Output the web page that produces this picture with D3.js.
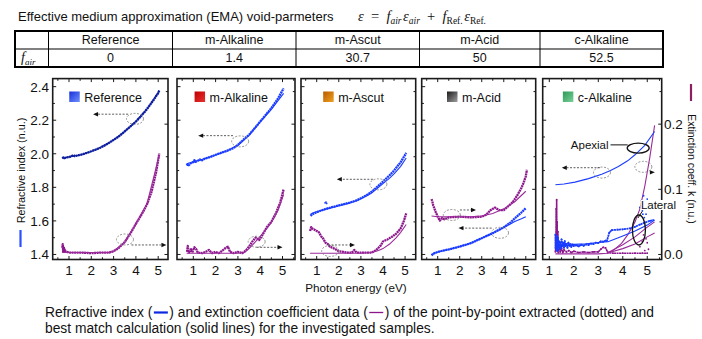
<!DOCTYPE html>
<html><head><meta charset="utf-8">
<script src="https://cdn.jsdelivr.net/npm/d3@7"></script>
<style>
body{margin:0;background:#fff;}
svg{display:block;font-family:"Liberation Sans",Arial,sans-serif;}
</style>
</head><body>
<svg id="c" width="702" height="339"></svg>
<script>
// ---------------- DATA ----------------
const panelNames = ["Reference","m-Alkaline","m-Ascut","m-Acid","c-Alkaline"];
const fAirValues = ["0","1.4","30.7","50","52.5"];
const xTickValues = [1,2,3,4,5];
const nTickLabels = [1.4,1.6,1.8,2.0,2.2,2.4];
const kTickLabels = [0.0,0.1,0.2];

// Reference
const refNData = [[0.7,1.972],[0.75,1.978],[0.8,1.974],[0.9,1.979],[1.0,1.980],[1.1,1.985],[1.2,1.993],[1.25,1.986],[1.4,1.99],[1.6,1.997],[1.8,2.005],[2.0,2.015],[2.2,2.025],[2.4,2.036],[2.6,2.05],[2.8,2.065],[3.0,2.083],[3.2,2.1],[3.4,2.122],[3.6,2.145],[3.8,2.168],[4.0,2.192],[4.2,2.22],[4.4,2.25],[4.6,2.285],[4.8,2.322],[5.0,2.362],[5.05,2.378]];
const refNFit = [[0.7,1.974],[1.0,1.981],[1.5,1.993],[2.0,2.014],[2.5,2.043],[3.0,2.082],[3.5,2.133],[4.0,2.193],[4.5,2.267],[5.05,2.375]];
const refKData = [[0.7,0.010],[0.72,0.016],[0.74,0.004],[0.76,0.012],[0.78,0.005],[0.8,0.008],[0.85,0.004],[0.9,0.004],[1.0,0.003],[1.5,0.003],[2.0,0.002],[2.5,0.003],[2.8,0.003],[3.0,0.005],[3.2,0.009],[3.5,0.019],[3.8,0.035],[4.0,0.047],[4.3,0.064],[4.5,0.077],[4.7,0.096],[4.9,0.125],[5.05,0.155]];
const refKFit = [[0.7,0.003],[1.0,0.003],[2.0,0.003],[2.8,0.003],[3.0,0.005],[3.5,0.019],[4.0,0.047],[4.5,0.078],[5.05,0.153]];

// m-Alkaline
const alkNData = [[0.7,1.93],[0.75,1.938],[0.8,1.932],[0.9,1.945],[1.0,1.95],[1.05,1.962],[1.1,1.952],[1.2,1.958],[1.3,1.966],[1.35,1.958],[1.5,1.97],[1.8,1.983],[2.0,1.994],[2.3,2.008],[2.5,2.017],[2.8,2.034],[3.0,2.053],[3.3,2.09],[3.5,2.113],[3.8,2.16],[4.0,2.192],[4.3,2.24],[4.5,2.272],[4.8,2.33],[5.05,2.39]];
const alkNFit = [[0.7,1.94],[1.0,1.952],[1.5,1.97],[2.0,1.993],[2.5,2.017],[3.0,2.05],[3.5,2.11],[4.0,2.19],[4.5,2.265],[5.05,2.36]];
const alkKData = [[0.72,0.004],[0.75,0.013],[0.8,0.003],[0.9,0.008],[0.95,0.003],[1.05,0.011],[1.12,0.009],[1.2,0.003],[1.4,0.002],[1.55,0.004],[1.7,0.007],[1.85,0.002],[2.0,0.004],[2.15,0.002],[2.3,0.006],[2.45,0.01],[2.55,0.012],[2.65,0.004],[2.8,0.002],[3.0,0.004],[3.2,0.002],[3.35,0.006],[3.5,0.012],[3.65,0.02],[3.8,0.026],[3.95,0.022],[4.1,0.03],[4.3,0.042],[4.5,0.05],[4.7,0.063],[4.9,0.08],[5.05,0.1]];
const alkKFit = [[0.7,0.002],[1.0,0.002],[2.0,0.002],[3.0,0.002],[3.3,0.003],[3.5,0.009],[3.8,0.02],[4.0,0.028],[4.3,0.04],[4.5,0.049],[4.8,0.068],[5.05,0.092]];

// m-Ascut
const ascNData = [[0.72,1.63],[0.8,1.64],[1.0,1.652],[1.2,1.662],[1.5,1.675],[1.8,1.685],[2.0,1.692],[2.3,1.702],[2.5,1.709],[2.8,1.722],[3.0,1.735],[3.3,1.757],[3.5,1.775],[3.8,1.81],[4.0,1.834],[4.3,1.872],[4.5,1.9],[4.8,1.95],[5.05,2.005]];
const ascNFit = [[0.72,1.64],[0.8,1.645],[1.0,1.655],[1.2,1.662],[1.5,1.673],[1.8,1.683],[2.0,1.69],[2.3,1.70],[2.5,1.707],[2.8,1.72],[3.0,1.732],[3.3,1.752],[3.5,1.768],[3.8,1.80],[4.0,1.822],[4.3,1.855],[4.5,1.88],[4.8,1.925],[5.05,1.975]];
const ascNStray = [[1.38,1.708],[1.42,1.712],[1.45,1.704]];
const ascKData = [[0.7,0.036],[0.75,0.042],[0.8,0.04],[0.9,0.038],[1.0,0.036],[1.1,0.034],[1.2,0.028],[1.3,0.024],[1.4,0.018],[1.5,0.016],[1.6,0.012],[1.8,0.009],[2.0,0.005],[2.2,0.004],[2.4,0.003],[2.6,0.003],[2.7,0.007],[2.8,0.003],[3.0,0.003],[3.3,0.003],[3.5,0.003],[3.7,0.007],[3.9,0.014],[4.0,0.02],[4.2,0.023],[4.4,0.027],[4.6,0.032],[4.8,0.04],[4.95,0.052],[5.05,0.063]];
const ascKFit = [[0.7,0.002],[1.0,0.002],[2.0,0.002],[3.0,0.002],[3.5,0.003],[3.8,0.006],[4.0,0.009],[4.3,0.016],[4.6,0.026],[4.8,0.034],[5.05,0.046]];

// m-Acid
const acdNData = [[0.72,1.395],[0.8,1.405],[1.0,1.415],[1.3,1.425],[1.5,1.43],[2.0,1.447],[2.5,1.467],[3.0,1.497],[3.5,1.527],[3.8,1.548],[4.0,1.562],[4.3,1.59],[4.5,1.615],[4.8,1.65],[5.0,1.676]];
const acdNFit = [[0.72,1.398],[0.8,1.405],[1.0,1.415],[1.3,1.424],[1.5,1.43],[2.0,1.447],[2.5,1.467],[3.0,1.496],[3.5,1.528],[3.8,1.548],[4.0,1.56],[4.3,1.582],[4.5,1.597],[4.8,1.613],[5.0,1.625]];
const acdKData = [[0.72,0.085],[0.75,0.082],[0.8,0.075],[0.9,0.066],[1.0,0.058],[1.1,0.052],[1.2,0.056],[1.3,0.054],[1.5,0.057],[2.0,0.058],[2.5,0.057],[3.0,0.058],[3.2,0.061],[3.4,0.068],[3.6,0.072],[3.8,0.068],[4.0,0.068],[4.2,0.074],[4.4,0.08],[4.6,0.09],[4.8,0.102],[4.9,0.11],[5.0,0.12],[5.05,0.13]];
const acdKFit = [[0.72,0.059],[1.0,0.058],[1.5,0.058],[2.0,0.058],[2.5,0.058],[3.0,0.059],[3.5,0.063],[4.0,0.07],[4.5,0.081],[5.0,0.097]];

// c-Alkaline
const calApxNFit = [[1.25,1.815],[1.6,1.82],[2.05,1.831],[2.6,1.852],[3.14,1.878],[3.5,1.9],[3.82,1.924],[4.2,1.958],[4.5,1.994],[4.9,2.05],[5.3,2.133]];
const calApxKFit = [[1.25,0.001],[2.0,0.001],[3.0,0.001],[3.35,0.002],[3.6,0.006],[3.95,0.017],[4.2,0.03],[4.5,0.05],[4.7,0.07],[4.9,0.105],[5.1,0.148],[5.3,0.198]];
const calLatNData = [[1.25,1.52],[1.26,1.44],[1.27,1.49],[1.28,1.43],[1.3,1.51],[1.31,1.46],[1.33,1.42],[1.35,1.5],[1.37,1.45],[1.4,1.48],[1.42,1.43],[1.45,1.47],[1.48,1.44],[1.5,1.49],[1.53,1.45],[1.56,1.47],[1.6,1.44],[1.63,1.48],[1.66,1.45],[1.7,1.46],[1.74,1.44],[1.78,1.47],[1.82,1.45],[1.86,1.46],[1.9,1.445],[1.95,1.46],[2.0,1.45],[2.1,1.455],[2.2,1.448],[2.3,1.458],[2.4,1.452],[2.5,1.46],[2.6,1.456],[2.7,1.465],[2.8,1.462],[2.9,1.47],[3.0,1.468],[3.1,1.478],[3.2,1.476],[3.3,1.482],[3.35,1.48],[3.45,1.53],[3.55,1.545],[3.8,1.548],[4.0,1.55],[4.3,1.556],[4.5,1.565],[4.7,1.578],[4.9,1.59],[5.1,1.6],[5.25,1.605]];
const calLatNScatter = [[4.7,1.68],[4.75,1.72],[4.8,1.66],[4.85,1.75],[4.9,1.7],[4.95,1.64],[5.0,1.73],[4.82,1.64],[5.05,1.69],[4.88,1.62]];
const calLatNFit = [[1.25,1.48],[1.6,1.466],[2.0,1.46],[2.5,1.463],[3.0,1.471],[3.4,1.476],[4.0,1.51],[4.5,1.54],[5.0,1.575],[5.3,1.605]];
const calKData = [[1.25,0.004],[1.26,0.03],[1.27,0.008],[1.28,0.07],[1.29,0.012],[1.3,0.084],[1.31,0.02],[1.32,0.05],[1.33,0.006],[1.35,0.035],[1.37,0.003],[1.4,0.015],[1.45,0.004],[1.5,0.01],[1.55,0.003],[1.6,0.007],[1.7,0.004],[1.8,0.006],[1.9,0.003],[2.0,0.005],[2.2,0.003],[2.4,0.004],[2.6,0.003],[2.8,0.004],[3.0,0.004],[3.1,0.008],[3.2,0.011],[3.3,0.01],[3.35,0.006],[3.4,0.003],[3.6,0.002],[4.0,0.002],[4.5,0.002],[4.8,0.002],[5.0,0.002]];
const calKScatter = [[4.7,0.012],[4.9,0.006],[5.0,0.018],[4.85,0.03],[4.95,0.024],[5.05,0.008],[4.8,0.02]];
const calLatKFit1 = [[3.35,0.002],[4.0,0.015],[4.5,0.027],[5.0,0.042],[5.3,0.05]];
const calLatKFit2 = [[3.35,0.002],[4.0,0.009],[4.5,0.016],[5.0,0.027],[5.3,0.033]];

// annotation anchors (data coordinates)
const nEllipse = [[3.96,2.208],[3.10,2.074],[3.79,1.818],[3.83,1.529],[3.15,1.888]];
const nArrow   = [[3.65,2.08,2.236],[2.78,1.22,2.108],[3.54,1.91,1.848],[3.45,1.94,1.557],[3.07,1.51,1.917]];
const kEllipse = [[3.51,0.023],[3.84,0.0196],[1.61,0.0054],[1.64,0.0606],[4.84,0.1345]];
const kArrow   = [[3.80,5.37,0.0146],[3.84,5.0,0.011],[1.51,2.73,0.0146],[2.01,2.74,0.0683],[5.11,5.31,0.126]];

// ---------------- LAYOUT ----------------
const panelLayout = [
  {x0:52.7, x1:168,   dom:[0.269,5.44]},
  {x0:177,  x1:295,   dom:[0.269,5.56]},
  {x0:301,  x1:415.7, dom:[0.29,5.48]},
  {x0:421.7,x1:535.7, dom:[0.273,5.45]},
  {x0:542.7,x1:661.7, dom:[0.73,5.59]}
];
const yTop = 78.6, yBot = 259.5;
const yN = d3.scaleLinear().domain([1.37,2.448]).range([yBot,yTop]);
const yK = d3.scaleLinear().domain([-0.0077,0.2699]).range([yBot,yTop]);

const NAVY="#0c1d9e", BLUE="#1a3cff", PURPLE="#8c168c", PURPLE_FIT="#9b2b9b";
const legendFills = [["#1530d8","#7090ff"],["#c00000","#e83030"],["#b85a00","#f0a020"],["#1a1a1a","#a0a0a0"],["#2c9a55","#7ad09a"]];

const svg = d3.select("#c");
const defs = svg.append("defs");
legendFills.forEach((c,i)=>{
  const g = defs.append("linearGradient").attr("id","lg"+i).attr("x1","0").attr("y1","0").attr("x2","1").attr("y2","1");
  g.append("stop").attr("offset","0").attr("stop-color",c[0]);
  g.append("stop").attr("offset","1").attr("stop-color",c[1]);
});

// ---------------- TITLE ----------------
svg.append("text").attr("x",18).attr("y",21).attr("font-size",13).attr("fill","#111")
  .text("Effective medium approximation (EMA) void-parmeters");
const eq = svg.append("text").attr("x",358).attr("y",21).attr("font-family","'Liberation Serif','Times New Roman',serif").attr("font-size",14.5).attr("fill","#111").attr("xml:space","preserve").style("white-space","pre");
function eqPart(t, italic, sub){
  const s = eq.append("tspan").text(t).attr("font-style", italic?"italic":"normal");
  if(sub){ s.attr("font-size",9.5).attr("dy",3); }
  return s;
}
eqPart("ε",true); eqPart("  =  ",false);
eqPart("f",true); eqPart("air",true,true);
eq.append("tspan").attr("dy",-3).attr("dx",1.5).attr("font-style","italic").text("ε"); eqPart("air",true,true);
eq.append("tspan").attr("dy",-3).text("  +  ");
eqPart("f",true); eqPart("Ref.",false,true);
eq.append("tspan").attr("dy",-3).attr("dx",1.5).attr("font-style","italic").text("ε"); eqPart("Ref.",false,true);

// ---------------- TABLE ----------------
const colX = [15,48.5,172.5,296,419.5,540,663];
const rowY = [31,49,67];
const tbl = svg.append("g");
for(let i=1;i<colX.length-1;i++) tbl.append("line").attr("x1",colX[i]).attr("x2",colX[i]).attr("y1",rowY[0]).attr("y2",rowY[2]).attr("stroke","#000").attr("stroke-width",1);
tbl.append("line").attr("x1",colX[0]).attr("x2",colX[6]).attr("y1",rowY[1]).attr("y2",rowY[1]).attr("stroke","#000").attr("stroke-width",1);
tbl.append("rect").attr("x",colX[0]).attr("y",rowY[0]).attr("width",colX[6]-colX[0]).attr("height",rowY[2]-rowY[0]).attr("fill","none").attr("stroke","#000").attr("stroke-width",2);
panelNames.forEach((n,i)=>{
  tbl.append("text").attr("x",(colX[i+1]+colX[i+2])/2).attr("y",44).attr("text-anchor","middle").attr("font-size",12.5).attr("fill","#111").text(n);
  tbl.append("text").attr("x",(colX[i+1]+colX[i+2])/2).attr("y",62).attr("text-anchor","middle").attr("font-size",12.5).attr("fill","#111").text(fAirValues[i]);
});
const fa = tbl.append("text").attr("x",21).attr("y",62).attr("font-family","'Liberation Serif','Times New Roman',serif").attr("font-style","italic").attr("font-size",14).attr("fill","#111");
fa.append("tspan").text("f");
fa.append("tspan").attr("font-size",9).attr("dy",2.5).text("air");

// ---------------- PANELS ----------------
const lineGen = (x,y)=> d3.line().x(d=>x(d[0])).y(d=>y(d[1]));

function drawDotted(g, data, x, y, color, w){
  g.append("path").attr("d",lineGen(x,y)(data)).attr("fill","none").attr("stroke",color)
   .attr("stroke-width",w||2.3).attr("stroke-dasharray","2,0.5").attr("stroke-linejoin","round");
}
function drawFit(g, data, x, y, color){
  g.append("path").attr("d",lineGen(x,y)(data)).attr("fill","none").attr("stroke",color).attr("stroke-width",1.1);
}
function drawDots(g, data, x, y, color){
  g.selectAll(null).data(data).enter().append("circle").attr("cx",d=>x(d[0])).attr("cy",d=>y(d[1])).attr("r",0.9).attr("fill",color);
}
function drawEllipse(g, cx, cy, rx, ry, solid){
  g.append("ellipse").attr("cx",cx).attr("cy",cy).attr("rx",rx).attr("ry",ry).attr("fill","none")
    .attr("stroke", solid?"#111":"#777").attr("stroke-width", solid?1.3:0.8)
    .attr("stroke-dasharray", solid?null:"2,1.5");
}
function drawArrow(g, xa, xb, yy){
  const dir = xb>xa?1:-1;
  g.append("line").attr("x1",xa).attr("x2",xb-dir*3).attr("y1",yy).attr("y2",yy).attr("stroke","#333").attr("stroke-width",0.8).attr("stroke-dasharray","2,1.5");
  g.append("path").attr("d",`M${xb},${yy} L${xb-dir*5},${yy-2.2} L${xb-dir*5},${yy+2.2} Z`).attr("fill","#111");
}

const panelSeries = [
  {nData:refNData, nFit:refNFit, kData:refKData, kFit:refKFit, nColor:NAVY},
  {nData:alkNData, nFit:alkNFit, kData:alkKData, kFit:alkKFit, nColor:BLUE},
  {nData:ascNData, nFit:ascNFit, kData:ascKData, kFit:ascKFit, nColor:BLUE},
  {nData:acdNData, nFit:acdNFit, kData:acdKData, kFit:acdKFit, nColor:BLUE},
  null
];

panelLayout.forEach((p,i)=>{
  const x = d3.scaleLinear().domain(p.dom).range([p.x0,p.x1]);
  const g = svg.append("g");
  const cid = "clip"+i;
  defs.append("clipPath").attr("id",cid).append("rect").attr("x",p.x0).attr("y",yTop).attr("width",p.x1-p.x0).attr("height",yBot-yTop);
  const dg = g.append("g").attr("clip-path",`url(#${cid})`);

  const s = panelSeries[i];
  if(s){
    drawDotted(dg, s.kData, x, yK, PURPLE);
    drawFit(dg, s.kFit, x, yK, PURPLE_FIT);
    drawDotted(dg, s.nData, x, yN, s.nColor);
    drawFit(dg, s.nFit, x, yN, s.nColor);
    if(i===2) drawDots(dg, ascNStray, x, yN, BLUE);
  } else {
    drawDotted(dg, calKData, x, yK, PURPLE, 1.6);
    drawDots(dg, calKData, x, yK, PURPLE);
    drawDots(dg, calKScatter, x, yK, PURPLE);
    drawFit(dg, calApxKFit, x, yK, PURPLE_FIT);
    drawFit(dg, calLatKFit1, x, yK, PURPLE_FIT);
    drawFit(dg, calLatKFit2, x, yK, PURPLE_FIT);
    drawDotted(dg, calLatNData, x, yN, BLUE, 1.8);
    drawDots(dg, calLatNData, x, yN, BLUE);
    drawDots(dg, calLatNScatter, x, yN, BLUE);
    drawFit(dg, calLatNFit, x, yN, BLUE);
    drawFit(dg, calApxNFit, x, yN, BLUE);
  }

  // annotations
  const ne = nEllipse[i], na = nArrow[i], ke = kEllipse[i], ka = kArrow[i];
  drawEllipse(g, x(ne[0]), yN(ne[1]), 8.5, 5.5, false);
  drawArrow(g, x(na[0]), x(na[1]), yN(na[2]));
  drawEllipse(g, x(ke[0]), yK(ke[1]), 8.5, 5.5, false);
  drawArrow(g, x(ka[0]), x(ka[1]), yK(ka[2]));

  // frame
  g.append("rect").attr("x",p.x0).attr("y",yTop).attr("width",p.x1-p.x0).attr("height",yBot-yTop)
   .attr("fill","none").attr("stroke","#1a1a1a").attr("stroke-width",1.6);

  // ticks
  const tk = g.append("g").attr("stroke","#1a1a1a").attr("stroke-width",1);
  const xt = d3.range(Math.ceil(p.dom[0]*2)/2, p.dom[1]+1e-9, 0.5);
  xt.forEach(v=>{
    const L = Number.isInteger(v)?3.5:2.2;
    tk.append("line").attr("x1",x(v)).attr("x2",x(v)).attr("y1",yBot).attr("y2",yBot-L);
    tk.append("line").attr("x1",x(v)).attr("x2",x(v)).attr("y1",yTop).attr("y2",yTop+L);
  });
  d3.range(1.4,2.45,0.1).forEach((v,j)=>{
    const L = j%2===0?3.5:2.2;
    tk.append("line").attr("x1",p.x0).attr("x2",p.x0+L).attr("y1",yN(v)).attr("y2",yN(v));
  });
  d3.range(0,0.26,0.05).forEach((v,j)=>{
    const L = j%2===0?3.5:2.2;
    tk.append("line").attr("x1",p.x1).attr("x2",p.x1-L).attr("y1",yK(v)).attr("y2",yK(v));
  });
  xTickValues.forEach(v=>{
    g.append("text").attr("x",x(v)).attr("y",275).attr("text-anchor","middle").attr("font-size",13.5).attr("fill","#111").text(v);
  });

  // legend
  const lg = g.append("g");
  const lt = lg.append("text").attr("y",101.5).attr("font-size",12.5).attr("fill","#111").text(panelNames[i]);
  const tw = lt.node().getComputedTextLength();
  const total = 10 + 4.5 + tw;
  const start = (p.x0+p.x1)/2 - 5 - total/2;
  lg.append("rect").attr("x",start).attr("y",91.5).attr("width",10.5).attr("height",10.5).attr("fill",`url(#lg${i})`);
  lt.attr("x",start+15);

  if(i===0){
    nTickLabels.forEach(v=>{
      g.append("text").attr("x",49).attr("y",yN(v)+5).attr("text-anchor","end").attr("font-size",13.5).attr("fill","#111").text(d3.format(".1f")(v));
    });
  }
  if(i===4){
    kTickLabels.forEach(v=>{
      g.append("text").attr("x",664).attr("y",yK(v)+5).attr("font-size",13.5).attr("fill","#111").text(d3.format(".1f")(v));
    });
    // Apexial annotation
    g.append("text").attr("x",x(3.42)).attr("y",yN(2.03)).attr("text-anchor","end").attr("font-size",11.5).attr("fill","#111").text("Apexial");
    g.append("line").attr("x1",x(3.5)).attr("x2",x(4.2)).attr("y1",yN(2.053)).attr("y2",yN(2.053)).attr("stroke","#111").attr("stroke-width",1);
    drawEllipse(g, x(4.63), yN(2.034), 11, 5, true);
    // Lateral annotation
    const lat = g.append("text").attr("x",x(4.74)).attr("y",yK(0.0698)).attr("font-size",11.5).attr("fill","#111").text("Lateral");
    const bb = lat.node().getBBox();
    g.insert("rect", function(){return lat.node();}).attr("x",bb.x-0.5).attr("y",bb.y+1).attr("width",bb.width+1).attr("height",bb.height-2).attr("fill","#fff");
    g.append("line").attr("x1",x(4.79)).attr("x2",x(4.62)).attr("y1",yK(0.066)).attr("y2",yK(0.056)).attr("stroke","#111").attr("stroke-width",1);
    drawEllipse(g, x(4.66), yK(0.0376), 6.5, 15, true);
  }
});

// axis titles
svg.append("text").attr("transform","translate(24.5,170.5) rotate(-90)").attr("text-anchor","middle").attr("font-size",10.8).attr("fill","#111").text("Refractive index  (n.u.)");
svg.append("line").attr("x1",20.5).attr("x2",20.5).attr("y1",230).attr("y2",247).attr("stroke","#2a50ff").attr("stroke-width",2.2);
svg.append("text").attr("transform","translate(688,169) rotate(90)").attr("text-anchor","middle").attr("font-size",10.5).attr("fill","#111").text("Extinction coeff. k  (n.u.)");
svg.append("line").attr("x1",691).attr("x2",691).attr("y1",84).attr("y2",101).attr("stroke","#8a2060").attr("stroke-width",2.2);

svg.append("text").attr("x",356).attr("y",292).attr("text-anchor","middle").attr("font-size",11.7).attr("fill","#111").text("Photon energy (eV)");

// caption
function richLine(x0, y, parts){
  let cx = x0;
  parts.forEach(pt=>{
    if(typeof pt === "string"){
      const t = svg.append("text").attr("x",cx).attr("y",y).attr("font-size",13.8).attr("fill","#111").attr("xml:space","preserve").style("white-space","pre").text(pt);
      cx += t.node().getComputedTextLength();
    } else {
      svg.append("line").attr("x1",cx+1.5).attr("x2",cx+15.5).attr("y1",y-4.5).attr("y2",y-4.5).attr("stroke",pt.color).attr("stroke-width",pt.w);
      cx += 17;
    }
  });
}
richLine(45, 317, ["Refractive index (", {color:"#0a2ae0", w:2.2}, ") and extinction coefficient data (", {color:"#8c168c", w:1.3}, ") of the point-by-point extracted (dotted) and"]);
richLine(45, 333, ["best match calculation (solid lines) for the investigated samples."]);
</script>
</body></html>
